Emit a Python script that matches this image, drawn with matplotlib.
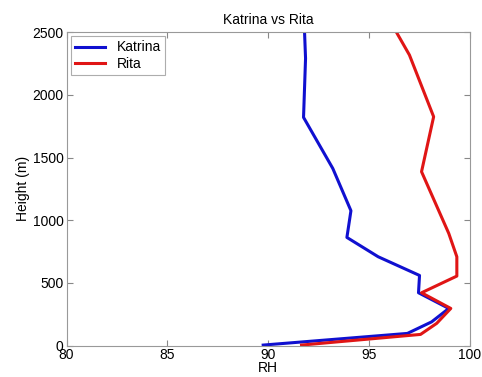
import matplotlib
matplotlib.use('Agg')
import matplotlib.pyplot as plt

# RH profiles (height in m)
katrina_rh = [89.75, 96.9, 98.1, 98.95, 97.45, 97.5, 95.45, 93.9, 94.1, 93.2, 91.75, 91.85, 91.8]
katrina_h = [5, 98, 190, 297, 422, 560, 709, 863, 1076, 1413, 1820, 2290, 2500]

rita_rh = [91.65, 97.55, 98.35, 99.05, 97.6, 99.35, 99.35, 98.95, 97.6, 98.2, 97.0, 96.35]
rita_h = [5, 90, 178, 297, 422, 555, 709, 895, 1387, 1825, 2317, 2500]

plt.rcParams['font.family'] = ['Liberation Sans', 'DejaVu Sans']

fig = plt.figure(figsize=(4.82, 3.77), dpi=100)
ax = fig.add_axes([0.138, 0.083, 0.837, 0.832])

ax.plot(katrina_rh, katrina_h, color='#1010d0', lw=2.2, label='Katrina')
ax.plot(rita_rh, rita_h, color='#e01515', lw=2.2, label='Rita')

ax.set_xlim(80, 100)
ax.set_ylim(0, 2500)
ax.set_xticks([80, 85, 90, 95, 100])
ax.set_yticks([0, 500, 1000, 1500, 2000, 2500])
ax.tick_params(direction='in', top=True, right=True, labelsize=10, length=4, color='#888888', pad=2)
for s in ax.spines.values():
    s.set_color('#999999')

ax.set_xlabel('RH', fontsize=10, labelpad=-1)
ax.set_ylabel('Height (m)', fontsize=10, labelpad=2)
ax.set_title('Katrina vs Rita', fontsize=10, pad=6)

leg = ax.legend(loc='upper left', fontsize=10, fancybox=False, borderaxespad=0.3,
                handlelength=2.2, labelspacing=0.2, borderpad=0.3)
leg.get_frame().set_edgecolor('#999999')
leg.get_frame().set_linewidth(0.8)

fig.savefig('out.png', dpi=100)
